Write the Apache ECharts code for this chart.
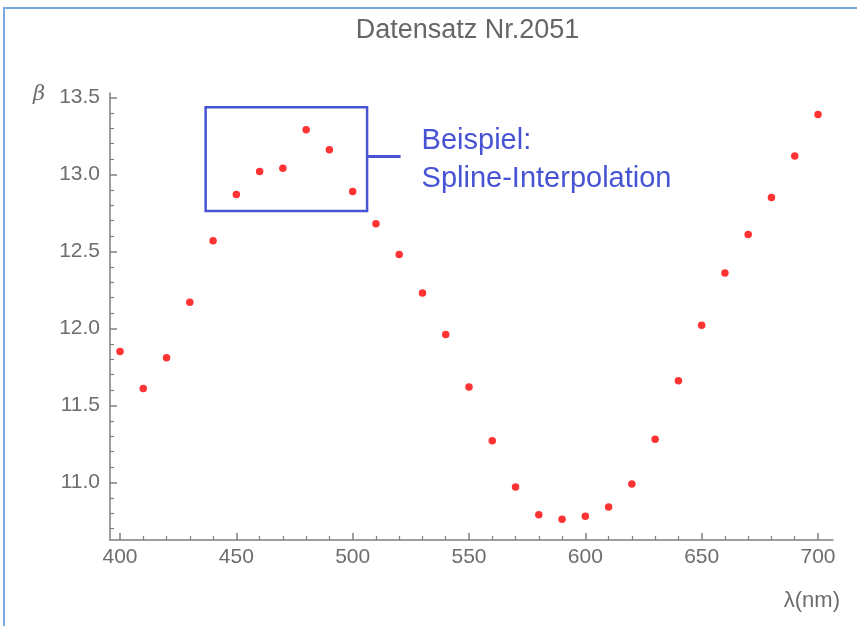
<!DOCTYPE html>
<html>
<head>
<meta charset="utf-8">
<script src="https://cdn.jsdelivr.net/npm/echarts@6/dist/echarts.min.js"></script>
<style>
  html, body { margin: 0; padding: 0; background: #ffffff; }
  #frame {
    position: absolute; left: 3px; top: 7px; width: 900px; height: 700px;
    border-left: 2px solid #7aa7e0; border-top: 2px solid #7aa7e0;
  }
  #chart { position: absolute; left: 0; top: 0; width: 857px; height: 626px; }
</style>
</head>
<body>
<div id="frame"></div>
<div id="chart"></div>
<script>
// Measured refractive parameter beta against wavelength (nm)
const wavelengths = [400, 410, 420, 430, 440, 450, 460, 470, 480, 490, 500,
                     510, 520, 530, 540, 550, 560, 570, 580, 590, 600,
                     610, 620, 630, 640, 650, 660, 670, 680, 690, 700];
const beta = [11.85, 11.61, 11.81, 12.17, 12.57, 12.87, 13.02, 13.04, 13.29, 13.16, 12.89,
              12.68, 12.48, 12.23, 11.96, 11.62, 11.27, 10.97, 10.79, 10.76, 10.78,
              10.84, 10.99, 11.28, 11.66, 12.02, 12.36, 12.61, 12.85, 13.12, 13.39];

const xTickLabels = [400, 450, 500, 550, 600, 650, 700];
const yTickLabels = [11.0, 11.5, 12.0, 12.5, 13.0, 13.5];

// Highlighted region (data coordinates) and its callout
const boxCorners = [[436.8, 13.436], [506.2, 12.763]];
const calloutY = 13.12;
const calloutEndX = 520.6;
const calloutText = ['Beispiel:', 'Spline-Interpolation'];

const xRange = [395.7, 706.45];
const yRange = [10.626, 13.529];

// minor tick positions between the labelled ones
const xMinor = [];
for (let v = 400; v <= 700; v += 10) if (v % 50 !== 0) xMinor.push(v);
const yMinor = [];
for (let i = 107; i <= 135; i++) if (i % 5 !== 0) yMinor.push(i / 10);

const axisGrey = '#7f7f7f';
const labelGrey = '#6d6d6d';
const blue = '#4753d3';
const font = 'Liberation Sans, Arial, sans-serif';

const chart = echarts.init(document.getElementById('chart'), null, { renderer: 'canvas' });

function majorAxis(range, ticks, isX) {
  return {
    type: 'value', min: range[0], max: range[1], position: isX ? 'bottom' : 'left',
    axisLine: { show: true, onZero: false, lineStyle: { color: axisGrey, width: 1.5 } },
    axisTick: { show: true, inside: true, length: 7, customValues: ticks,
                lineStyle: { color: axisGrey, width: 1.5 } },
    axisLabel: { show: true, customValues: ticks, margin: isX ? 7 : 10,
                 fontSize: 21, color: labelGrey, fontFamily: font,
                 formatter: v => isX ? String(v) : v.toFixed(1) },
    splitLine: { show: false }
  };
}
function minorAxis(range, ticks, isX) {
  return {
    type: 'value', min: range[0], max: range[1], position: isX ? 'bottom' : 'left',
    axisLine: { show: false, onZero: false },
    axisTick: { show: true, inside: true, length: 4, customValues: ticks,
                lineStyle: { color: axisGrey, width: 1.2 } },
    axisLabel: { show: false },
    splitLine: { show: false }
  };
}

chart.setOption({
  animation: false,
  grid: { left: 110, right: 24, top: 93, bottom: 86, containLabel: false },
  xAxis: [majorAxis(xRange, xTickLabels, true), minorAxis(xRange, xMinor, true)],
  yAxis: [majorAxis(yRange, yTickLabels, false), minorAxis(yRange, yMinor, false)],
  series: [{
    type: 'scatter',
    data: wavelengths.map((w, i) => [w, beta[i]]),
    symbolSize: 7.5,
    itemStyle: { color: '#ff0000' },
    markArea: {
      silent: true,
      itemStyle: { color: 'rgba(0,0,0,0)', borderColor: blue, borderWidth: 2.5 },
      data: [[{ coord: boxCorners[0] }, { coord: boxCorners[1] }]]
    },
    markLine: {
      silent: true, symbol: 'none',
      lineStyle: { color: blue, width: 3, type: 'solid' },
      label: { show: false },
      data: [[{ coord: [boxCorners[1][0], calloutY] }, { coord: [calloutEndX, calloutY] }]]
    }
  }]
});

const calloutPx = chart.convertToPixel({ gridIndex: 0 }, [calloutEndX, calloutY]);
const origin = chart.convertToPixel({ gridIndex: 0 }, [xRange[0], yRange[1]]);
const corner = chart.convertToPixel({ gridIndex: 0 }, [xRange[1], yRange[0]]);

chart.setOption({
  graphic: [
    {
      // title centred over the plotting area
      type: 'text', x: (origin[0] + corner[0]) / 2 - 4, y: 31,
      style: { text: 'Datensatz Nr.2051', fill: '#666666', fontSize: 27,
               fontFamily: font, textAlign: 'center', textVerticalAlign: 'middle' }
    },
    {
      type: 'text', left: calloutPx[0] + 21, top: calloutPx[1] - 34,
      style: { text: calloutText.join('\n'), fill: blue, fontSize: 29,
               lineHeight: 38, fontFamily: font }
    },
    {
      type: 'text', x: origin[0] - 77, y: origin[1] + 2,
      style: { text: 'β', fill: labelGrey, fontSize: 21, fontStyle: 'italic',
               fontFamily: 'DejaVu Serif, serif', textVerticalAlign: 'middle' }
    },
    {
      type: 'text', x: corner[0] + 7, y: corner[1] + 61,
      style: { text: 'λ(nm)', fill: labelGrey, fontSize: 22, fontFamily: font,
               textAlign: 'right', textVerticalAlign: 'middle' }
    }
  ]
});
</script>
</body>
</html>
